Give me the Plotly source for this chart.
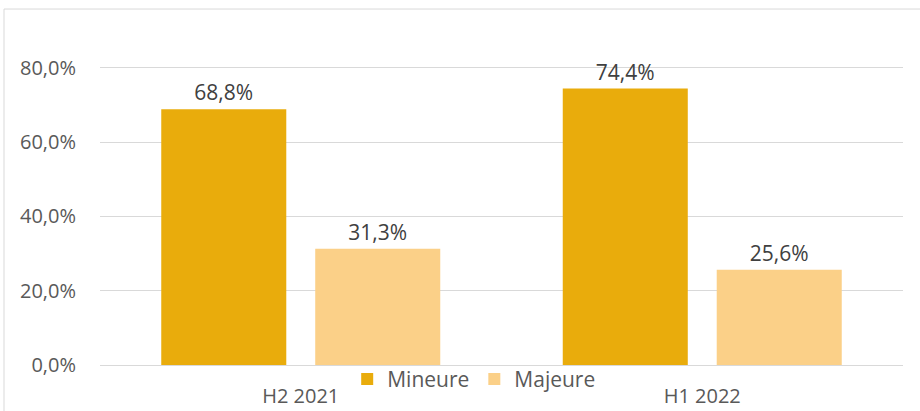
import plotly.graph_objects as go

categories = ["H2 2021", "H1 2022"]
mineure = [68.8, 74.4]
majeure = [31.3, 25.6]
mineure_labels = ["68,8%", "74,4%"]
majeure_labels = ["31,3%", "25,6%"]
y_ticks = [0, 20, 40, 60, 80]
y_tick_labels = ["0,0%", "20,0%", "40,0%", "60,0%", "80,0%"]

FONT = "Open Sans"

fig = go.Figure()
fig.add_trace(go.Bar(
    name="Mineure", x=categories, y=mineure,
    marker=dict(color="#E9AC0C", line=dict(width=0)),
    text=mineure_labels, textposition="outside", cliponaxis=False,
    textfont=dict(family=FONT, size=21, color="#404040"),
))
fig.add_trace(go.Bar(
    name="Majeure", x=categories, y=majeure,
    marker=dict(color="#FBD088", line=dict(width=0)),
    text=majeure_labels, textposition="outside", cliponaxis=False,
    textfont=dict(family=FONT, size=21, color="#404040"),
))

fig.update_layout(
    width=920, height=411,
    margin=dict(l=100, r=17, t=38, b=45.5, autoexpand=False),
    paper_bgcolor="white", plot_bgcolor="white",
    separators=", ",
    barmode="group", bargap=0.233, bargroupgap=0.188,
    font=dict(family=FONT, color="#595959", size=20),
    showlegend=True,
    legend=dict(orientation="h", x=0.466, xanchor="center", y=-0.044, yanchor="middle",
                font=dict(family=FONT, size=21, color="#595959"),
                bgcolor="rgba(0,0,0,0)", itemwidth=30, tracegroupgap=0),
    xaxis=dict(showgrid=False, showline=False, zeroline=False, ticks="",
               ticklabelstandoff=17, tickfont=dict(family=FONT, size=20, color="#595959")),
    yaxis=dict(range=[0, 88], tickvals=y_ticks, ticktext=y_tick_labels,
               showgrid=True, gridcolor="#D9D9D9", gridwidth=1,
               zeroline=True, zerolinecolor="#D9D9D9", zerolinewidth=1,
               showline=False, ticks="", ticklabelstandoff=23,
               tickfont=dict(family=FONT, size=20, color="#595959")),
    shapes=[dict(type="rect", xref="paper", yref="paper",
                 x0=-96 / 803, x1=1.03, y0=-0.2, y1=(365.5 - 9) / 327.5,
                 line=dict(color="#D9D9D9", width=1), fillcolor="rgba(0,0,0,0)", layer="below")],
)

fig.write_html("out.html", config={"displayModeBar": False},
               post_script="document.body.style.margin='0';document.body.style.overflow='hidden';")
